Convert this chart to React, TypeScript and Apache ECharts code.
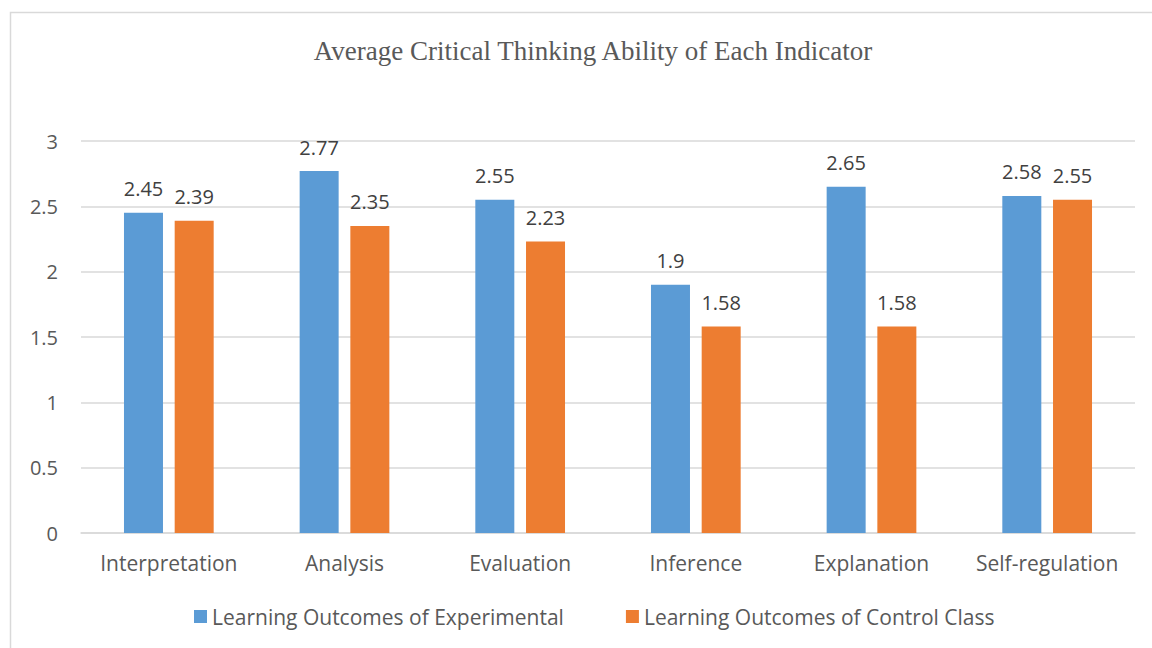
import React, { useEffect, useRef } from "react";
import * as echarts from "echarts";

const categories = ["Interpretation", "Analysis", "Evaluation", "Inference", "Explanation", "Self-regulation"];
const experimental = [2.45, 2.77, 2.55, 1.9, 2.65, 2.58];
const control = [2.39, 2.35, 2.23, 1.58, 1.58, 2.55];
const seriesNames = ["Learning Outcomes of Experimental", "Learning Outcomes of Control Class"];
const titleText = "Average Critical Thinking Ability of Each Indicator";

export default function App() {
  const ref = useRef<HTMLDivElement>(null);
  useEffect(() => {
    if (!ref.current) return;
    const chart = echarts.init(ref.current, null, { renderer: "svg" });
    const font = "'Open Sans', Lato, sans-serif";
    const labelStyle = {
      show: true,
      position: "top" as const,
      distance: 14,
      color: "#404040",
      fontSize: 20,
      fontFamily: font,
    };
    chart.setOption({
      animation: false,
      backgroundColor: "#ffffff",
      title: {
        text: titleText,
        left: 588,
        top: 32,
        textAlign: "center",
        textStyle: {
          fontFamily: "'Liberation Serif', 'Times New Roman', serif",
          fontSize: 27,
          fontWeight: "normal",
          color: "#595959",
        },
      },
      graphic: [
        {
          type: "rect",
          shape: { x: 10.5, y: 12.5, width: 1300, height: 800 },
          style: { fill: "none", stroke: "#d9d9d9", lineWidth: 1.5 },
          silent: true,
        },
      ],
      legend: {
        top: 601,
        left: 189,
        itemWidth: 13,
        itemHeight: 13,
        itemGap: 62,
        icon: "rect",
        textStyle: { fontFamily: font, fontSize: 21, color: "#595959" },
        data: seriesNames,
      },
      grid: { left: 81, right: 17, top: 141, bottom: 115 },
      xAxis: {
        type: "category",
        data: categories,
        axisLine: { lineStyle: { color: "#d9d9d9", width: 1.5 } },
        axisTick: { show: false },
        axisLabel: { fontFamily: font, fontSize: 21, color: "#595959", margin: 19, interval: 0 },
      },
      yAxis: {
        type: "value",
        min: 0,
        max: 3,
        interval: 0.5,
        axisLine: { show: false },
        axisTick: { show: false },
        splitLine: { lineStyle: { color: "#d9d9d9", width: 1.5 } },
        axisLabel: { fontFamily: font, fontSize: 20, color: "#595959", margin: 23 },
      },
      series: [
        {
          name: seriesNames[0],
          type: "bar",
          data: experimental,
          barWidth: 39,
          barGap: "30%",
          itemStyle: { color: "#5B9BD5" },
          label: labelStyle,
        },
        {
          name: seriesNames[1],
          type: "bar",
          data: control,
          barWidth: 39,
          barGap: "30%",
          itemStyle: { color: "#ED7D31" },
          label: labelStyle,
        },
      ],
    });
    return () => chart.dispose();
  }, []);
  return (
    <div
      ref={ref}
      style={{ position: "fixed", left: 0, top: 0, width: 1152, height: 648 }}
    />
  );
}
